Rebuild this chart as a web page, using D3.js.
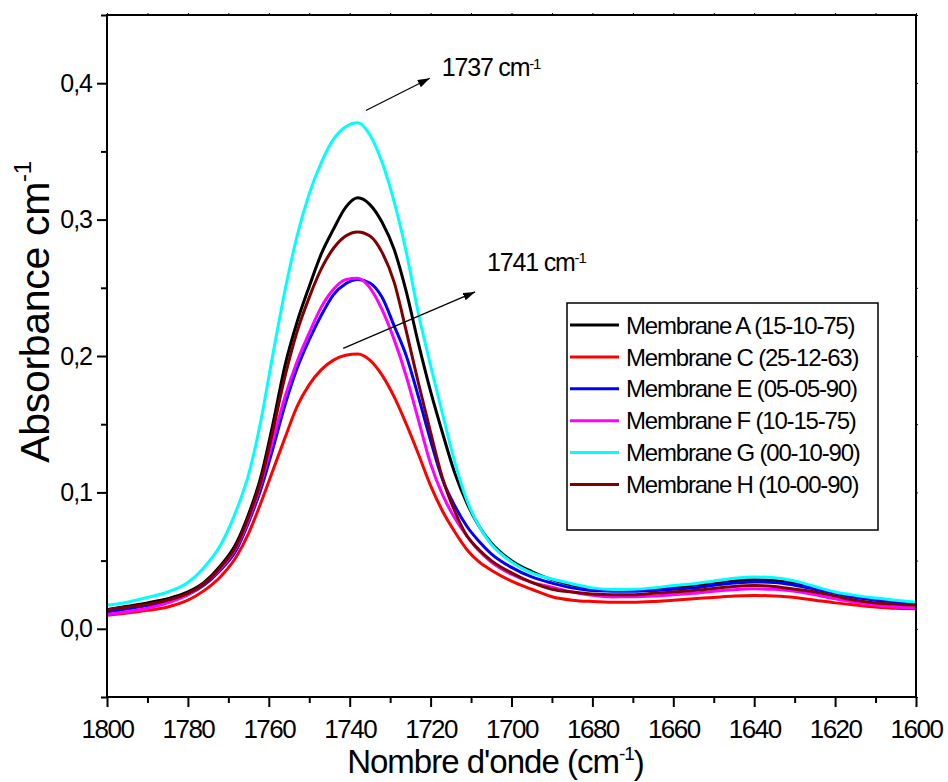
<!DOCTYPE html>
<html>
<head>
<meta charset="utf-8">
<script src="https://cdn.jsdelivr.net/npm/d3@7"></script>
<style>
body { margin: 0; background: #fff; }
svg text { font-family: "Liberation Sans", Arial, sans-serif; fill: #000; }
</style>
</head>
<body>
<div></div>
<script>
// wavenumbers (cm-1)
let wavenumbers = [1800, 1795, 1790, 1785, 1780, 1776, 1772, 1768, 1765, 1762, 1759, 1756, 1753, 1750, 1747, 1744, 1741, 1738, 1735, 1732, 1729, 1726, 1723, 1720, 1717, 1714, 1711, 1708, 1705, 1700, 1695, 1690, 1685, 1680, 1675, 1670, 1665, 1660, 1655, 1650, 1645, 1640, 1635, 1630, 1625, 1620, 1615, 1610, 1605, 1600]

let membraneA = [.014, .0165, .019, .022, .027, .034, .046, .063, .084, .111, .150, .193, .225, .251, .275, .293, .309, .316, .311, .298, .278, .247, .209, .174, .143, .114, .092, .075, .063, .050, .042, .036, .032, .029, .028, .028, .029, .030, .032, .033, .035, .0359, .0355, .0335, .030, .0265, .0235, .0215, .020, .019]
let membraneC = [.010, .0115, .0135, .016, .021, .028, .038, .053, .070, .092, .116, .140, .163, .179, .190, .197, .2005, .2015, .197, .186, .170, .150, .128, .105, .086, .071, .058, .049, .043, .035, .029, .0235, .021, .020, .0195, .0195, .020, .021, .022, .023, .024, .0244, .024, .023, .021, .019, .0175, .016, .015, .0147]
let membraneE = [.0125, .0145, .017, .020, .025, .032, .043, .058, .078, .102, .132, .164, .191, .212, .230, .245, .253, .256, .2535, .243, .222, .200, .170, .138, .109, .090, .075, .064, .055, .045, .038, .0335, .030, .028, .0276, .0275, .028, .029, .030, .032, .0335, .0344, .034, .032, .029, .026, .023, .021, .019, .018]
let membraneF = [.0105, .0125, .015, .019, .025, .033, .044, .060, .080, .106, .138, .170, .196, .217, .236, .249, .256, .257, .250, .234, .212, .185, .153, .121, .098, .081, .068, .057, .049, .040, .034, .0305, .027, .0245, .0234, .0235, .024, .025, .026, .0275, .0287, .0293, .029, .0275, .025, .022, .0195, .0175, .016, .0154]
let membraneG = [.0173, .0195, .023, .027, .034, .045, .061, .087, .113, .152, .201, .248, .288, .319, .342, .359, .368, .371, .362, .342, .313, .276, .231, .193, .157, .122, .094, .075, .062, .049, .041, .0365, .033, .030, .0288, .029, .030, .0317, .033, .035, .037, .038, .0375, .035, .031, .027, .0245, .0225, .021, .0195]
let membraneH = [.014, .016, .018, .021, .026, .033, .045, .061, .082, .108, .145, .185, .218, .243, .264, .279, .288, .291, .288, .276, .254, .218, .180, .144, .110, .086, .068, .058, .050, .041, .034, .029, .027, .0255, .025, .025, .026, .027, .028, .0295, .031, .0317, .031, .029, .027, .024, .021, .019, .018, .0173]

let seriesNames = ["Membrane A (15-10-75)", "Membrane C (25-12-63)", "Membrane E (05-05-90)", "Membrane F (10-15-75)", "Membrane G (00-10-90)", "Membrane H (10-00-90)"]
let seriesValues = [membraneA, membraneC, membraneE, membraneF, membraneG, membraneH]
let colors = ["#000000", "#ff0000", "#0000ff", "#ff00ff", "#00ffff", "#800000"]

let xTicks = [1800, 1780, 1760, 1740, 1720, 1700, 1680, 1660, 1640, 1620, 1600]
let xMinor = d3.range(1790, 1600, -20)
let yTicks = [0, 0.1, 0.2, 0.3, 0.4]
let yMinor = [-0.05, 0.05, 0.15, 0.25, 0.35, 0.45]

// peak annotations: label, arrow start, arrow tip (in data units)
let peakLabels = ["1737", "1741"]
let arrowFrom = [[1736, 0.380], [1741.6, 0.2056]]
let arrowTo = [[1720.2, 0.4036], [1709, 0.247]]

let w = 948, h = 782
let pLeft = 107, pRight = 916, pTop = 15, pBottom = 697

let svg = d3.select("div").append("svg").attr("width", w).attr("height", h)

let xScale = d3.scaleLinear().domain([1800, 1600]).range([pLeft, pRight])
let yScale = d3.scaleLinear().domain([-0.05, 0.45]).range([pBottom, pTop])

let defs = svg.append("defs")
defs.append("marker").attr("id", "head")
    .attr("viewBox", "0 0 12 8").attr("refX", 12).attr("refY", 4)
    .attr("markerWidth", 12).attr("markerHeight", 8).attr("markerUnits", "userSpaceOnUse")
    .attr("orient", "auto")
    .append("path").attr("d", "M0,0 L12,4 L0,8 Z").attr("fill", "#000")

// curves
let line = d3.line()
    .x((d, i) => xScale(wavenumbers[i]))
    .y(d => yScale(d))
    .curve(d3.curveMonotoneX)

svg.selectAll(".curve")
    .data(seriesValues)
    .enter()
    .append("path")
    .attr("class", "curve")
    .attr("d", d => line(d))
    .attr("fill", "none")
    .attr("stroke", (d, i) => colors[i])
    .attr("stroke-width", 3)

// frame
svg.append("rect").attr("x", pLeft).attr("y", pTop).attr("width", pRight - pLeft).attr("height", pBottom - pTop)
    .attr("fill", "none").attr("stroke", "#000").attr("stroke-width", 2)

let noDomain = g => g.select(".domain").remove()

// bottom axis
svg.append("g").attr("transform", "translate(0," + pBottom + ")")
    .call(d3.axisBottom(xScale).tickValues(xTicks).tickSize(10).tickPadding(13).tickFormat(d3.format("d")))
    .call(noDomain)
    .call(g => g.selectAll("text").style("font-size", "26px").style("letter-spacing", "-1.5px"))
    .selectAll("line").attr("stroke-width", 2)
svg.append("g").attr("transform", "translate(0," + pBottom + ")")
    .call(d3.axisBottom(xScale).tickValues(xMinor).tickSize(6).tickFormat(""))
    .call(noDomain)
    .selectAll("line").attr("stroke-width", 2)

// left axis
svg.append("g").attr("transform", "translate(" + pLeft + ",0)")
    .call(d3.axisLeft(yScale).tickValues(yTicks).tickSize(10).tickPadding(5)
        .tickFormat(d => d3.format(".1f")(d).replace(".", ",")))
    .call(noDomain)
    .call(g => g.selectAll("text").style("font-size", "25px").style("letter-spacing", "-1px"))
    .selectAll("line").attr("stroke-width", 2)
svg.append("g").attr("transform", "translate(" + pLeft + ",0)")
    .call(d3.axisLeft(yScale).tickValues(yMinor).tickSize(6).tickFormat(""))
    .call(noDomain)
    .selectAll("line").attr("stroke-width", 2)

// tiny ticks on top and right
svg.append("g").attr("transform", "translate(0," + pTop + ")")
    .call(d3.axisTop(xScale).tickValues(xTicks.concat(xMinor)).tickSize(2).tickFormat(""))
    .call(noDomain)
svg.append("g").attr("transform", "translate(" + pRight + ",0)")
    .call(d3.axisRight(yScale).tickValues(yTicks.concat(yMinor)).tickSize(2).tickFormat(""))
    .call(noDomain)

// axis titles
let yTitle = svg.append("text")
    .attr("transform", "translate(49," + ((pTop + pBottom) / 2 - 44) + ") rotate(-90)")
    .attr("text-anchor", "middle")
    .style("font-size", "41px").style("letter-spacing", "-0.3px")
yTitle.append("tspan").text("Absorbance cm")
yTitle.append("tspan").attr("dy", "-0.75em").style("font-size", "24px").text("-1")

let xTitle = svg.append("text")
    .attr("x", (pLeft + pRight) / 2 - 16).attr("y", 773)
    .attr("text-anchor", "middle")
    .style("font-size", "33px").style("letter-spacing", "-1px")
xTitle.append("tspan").text("Nombre d'onde (cm")
xTitle.append("tspan").attr("dy", "-0.7em").style("font-size", "19px").text("-1")
xTitle.append("tspan").attr("dy", "0.42em").text(")")

// annotations
peakLabels.forEach((lab, i) => {
    svg.append("line")
        .attr("x1", xScale(arrowFrom[i][0])).attr("y1", yScale(arrowFrom[i][1]))
        .attr("x2", xScale(arrowTo[i][0])).attr("y2", yScale(arrowTo[i][1]))
        .attr("stroke", "#000").attr("stroke-width", 1.2)
        .attr("marker-end", "url(#head)")
    let t = svg.append("text")
        .attr("x", xScale(arrowTo[i][0]) + 12).attr("y", yScale(arrowTo[i][1]) - 2 - i * 19)
        .style("font-size", "25px").style("letter-spacing", "-1.2px")
    t.append("tspan").text(lab + " cm")
    t.append("tspan").attr("dy", "-0.5em").style("font-size", "15px").text("-1")
})

// legend
let legend = svg.append("g").attr("transform", "translate(567,303)")
legend.append("rect").attr("width", 311).attr("height", 227)
    .attr("fill", "#fff").attr("stroke", "#000").attr("stroke-width", 1.5)

let items = legend.selectAll(".item")
    .data(seriesNames)
    .enter()
    .append("g")
    .attr("class", "item")
    .attr("transform", (d, i) => "translate(0," + (22 + i * 31.9) + ")")
items.append("line").attr("x1", 3).attr("x2", 52)
    .attr("stroke", (d, i) => colors[i]).attr("stroke-width", 3)
items.append("text").attr("x", 59).attr("dy", "0.36em")
    .style("font-size", "24px").style("letter-spacing", "-1.2px")
    .text(d => d)
</script>
</body>
</html>
